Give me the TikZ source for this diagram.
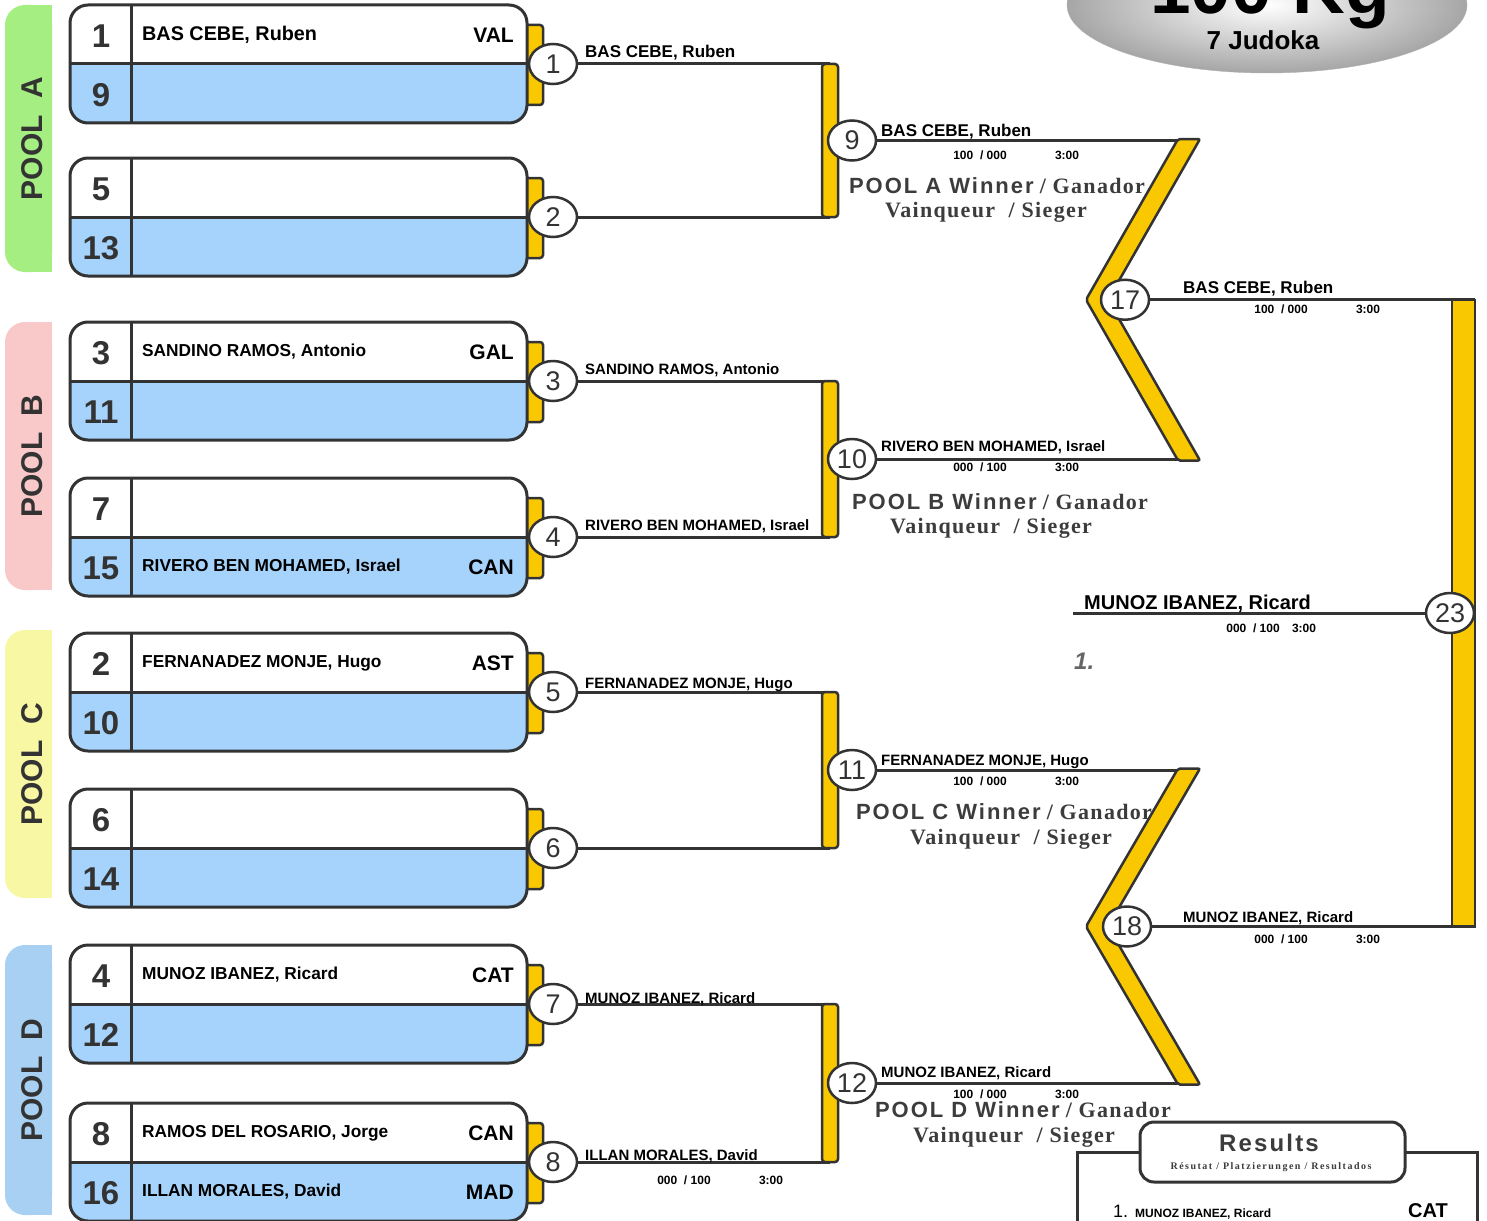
\documentclass[tikz,border=0pt]{standalone}
\usepackage{fontspec}
\setmainfont{Liberation Sans}
\newfontfamily\winsans[LetterSpace=9]{Liberation Sans}
\newfontfamily\winserif[LetterSpace=6]{Liberation Serif}
\newfontfamily\subserif[LetterSpace=15]{Liberation Serif}
\usetikzlibrary{shapes.geometric,calc}

\definecolor{dark}{HTML}{333333}
\definecolor{gold}{HTML}{F9C800}
\definecolor{rowblue}{HTML}{A6D3FB}
\definecolor{poolA}{HTML}{A5EE82}
\definecolor{poolB}{HTML}{F9C8C8}
\definecolor{poolC}{HTML}{F8F8A4}
\definecolor{poolD}{HTML}{A8D0F2}
\definecolor{wintext}{HTML}{3C3C3C}

\begin{document}
\begin{tikzpicture}[x=1pt, y=-1pt,
    boxline/.style={draw=dark, line width=3},
    wire/.style={draw=dark, line width=3},
    gbar/.style={draw=dark, line width=2.5, fill=gold, rounded corners=3},
    mcirc/.style={ellipse, draw=dark, line width=2.5, fill=white, minimum width=48, minimum height=40, inner sep=0, text=dark, font=\fontsize{27}{27}\selectfont},
    seed/.style={text=dark, font=\fontsize{33}{33}\selectfont\bfseries},
    entry/.style={anchor=west, inner sep=0, font=\fontsize{17.3}{18}\selectfont\bfseries},
    club/.style={anchor=east, inner sep=0, font=\fontsize{21}{21}\selectfont\bfseries},
    pooltab/.style={rotate=90, text=dark, font=\fontsize{30}{30}\selectfont\bfseries},
    lbl/.style={anchor=base west, inner sep=0, font=\fontsize{15}{15}\selectfont\bfseries},
    big/.style={font=\fontsize{17}{17}\selectfont\bfseries},
    score/.style={inner sep=0, font=\fontsize{12}{12}\selectfont\bfseries},
    winner/.style={text=wintext, font=\fontsize{22}{22}\selectfont\bfseries}
    ]

    \clip (0,0) rectangle (1487,1220);

    % title
    \shade[inner color=white, middle color=gray!15, outer color=gray!70, draw=gray!60] (1267,5) ellipse (200pt and 68pt);
    \node[anchor=base, font=\fontsize{73}{73}\selectfont\bfseries] (weight) at (1270,14) {100 Kg};
    \node[font=\fontsize{26}{26}\selectfont\bfseries] (judoka) at (1263,40) {7 Judoka};

    % pools
    \foreach \ya/\yb/\col/\txt in {5/272/poolA/A, 322/590/poolB/B, 630/898/poolC/C, 945/1215/poolD/D}{
        \fill[\col, rounded corners=20] (5,\ya) rectangle (52,\yb);
        \fill[\col] (30,\ya) rectangle (52,\yb);
        \node[pooltab] (pool\txt) at (32,{(\ya+\yb)/2}) {POOL\ \ \txt};
    }

    \foreach \ty/\sa/\sb/\na/\ca/\nb/\cb/\m in {
        5/1/9/{\fontsize{19.8}{20}\selectfont BAS CEBE, Ruben}/VAL/{}/{}/1,
        158/5/13/{}/{}/{}/{}/2,
        322/3/11/{SANDINO RAMOS, Antonio}/GAL/{}/{}/3,
        478/7/15/{}/{}/{RIVERO BEN MOHAMED, Israel}/CAN/4,
        633/2/10/{FERNANADEZ MONJE, Hugo}/AST/{}/{}/5,
        789/6/14/{}/{}/{}/{}/6,
        945/4/12/{MUNOZ IBANEZ, Ricard}/CAT/{}/{}/7,
        1103/8/16/{RAMOS DEL ROSARIO, Jorge}/CAN/{ILLAN MORALES, David}/MAD/8}{
        \draw[gbar] (515,\ty+20) rectangle (543,\ty+100);
        \begin{scope}
            \clip[rounded corners=18] (70,\ty) rectangle (527,\ty+118);
            \fill[white] (70,\ty) rectangle (527,\ty+59);
            \fill[rowblue] (70,\ty+59) rectangle (527,\ty+118);
        \end{scope}
        \draw[boxline, rounded corners=18] (70,\ty) rectangle (527,\ty+118);
        \draw[boxline] (70,\ty+59) -- (527,\ty+59) (131,\ty) -- (131,\ty+118);
        \node[seed] (s\sa) at (101,\ty+31) {\sa};
        \node[seed] (s\sb) at (101,\ty+90) {\sb};
        \node[entry] (n\sa) at (142,\ty+30) {\na};
        \node[club] (c\sa) at (514,\ty+30) {\ca};
        \node[entry] (n\sb) at (142,\ty+89) {\nb};
        \node[club] (c\sb) at (514,\ty+89) {\cb};
        \node[mcirc] (m\m) at (553,\ty+59) {\m};
    }

    % second round
    \coordinate (col) at (830,0);
    \foreach \a/\b/\m in {1/2/9, 3/4/10, 5/6/11, 7/8/12}{
        \draw[wire] (m\a.east) -- (m\a -| col);
        \draw[wire] (m\b.east) -- (m\b -| col);
        \draw[gbar] ($(m\a -| col)+(-8,0)$) rectangle ($(m\b -| col)+(8,0)$);
        \node[mcirc] (m\m) at ($(m\a -| col)!.5!(m\b -| col)+(22,0)$) {\m};
    }

    % pool winners
    \coordinate (cv) at (1195,0);
    \foreach \m in {9,10,11,12}
        \draw[wire] (m\m.east) -- (m\m -| cv);
    \draw[gbar, rounded corners=2] (1178,139) -- (1200,139) -- (1108,299.75) -- (1200,460.5) -- (1178,460.5) -- (1086,299.75) -- cycle;
    \draw[gbar, rounded corners=2] (1178,768.5) -- (1200,768.5) -- (1108,926.5) -- (1200,1084.5) -- (1178,1084.5) -- (1086,926.5) -- cycle;
    \node[mcirc] (m17) at (1125,299.75) {17};
    \node[mcirc] (m18) at (1127,926.5) {18};

    % final
    \coordinate (fx) at (1475,0);
    \draw[gbar, rounded corners=0] (1452,299.75) rectangle (1475,926.5);
    \draw[wire] (m17.east) -- (m17 -| fx);
    \draw[wire] (m18.east) -- (m18 -| fx);
    \node[mcirc] (m23) at (1450,613) {23};
    \coordinate (fin) at (1073,613);
    \draw[wire] (fin) -- (m23.west);

    % names on the lines
    \node[lbl, big] (l1) at (585,58) {BAS CEBE, Ruben};
    \node[lbl] (l3) at (585,374) {SANDINO RAMOS, Antonio};
    \node[lbl] (l4) at (585,530) {RIVERO BEN MOHAMED, Israel};
    \node[lbl] (l5) at (585,688) {FERNANADEZ MONJE, Hugo};
    \node[lbl] (l7) at (585,1003) {MUNOZ IBANEZ, Ricard};
    \node[lbl] (l8) at (585,1160) {ILLAN MORALES, David};
    \node[lbl, big] (l9) at (881,136) {BAS CEBE, Ruben};
    \node[lbl] (l10) at (881,451) {RIVERO BEN MOHAMED, Israel};
    \node[lbl] (l11) at (881,765) {FERNANADEZ MONJE, Hugo};
    \node[lbl] (l12) at (881,1077) {MUNOZ IBANEZ, Ricard};
    \node[lbl, big] (l17) at (1183,293) {BAS CEBE, Ruben};
    \node[lbl] (l18) at (1183,922) {MUNOZ IBANEZ, Ricard};
    \node[lbl, font=\fontsize{20}{20}\selectfont\bfseries] (l23) at (1084,609) {MUNOZ IBANEZ, Ricard};

    % scores
    \node[score] (p8) at (684,1180) {000~ / 100};   \node[score] (t8) at (771,1180) {3:00};
    \node[score] (p9) at (980,155) {100~ / 000};    \node[score] (t9) at (1067,155) {3:00};
    \node[score] (p10) at (980,467) {000~ / 100};   \node[score] (t10) at (1067,467) {3:00};
    \node[score] (p11) at (980,781) {100~ / 000};   \node[score] (t11) at (1067,781) {3:00};
    \node[score] (p12) at (980,1094) {100~ / 000};  \node[score] (t12) at (1067,1094) {3:00};
    \node[score] (p17) at (1281,309) {100~ / 000};  \node[score] (t17) at (1368,309) {3:00};
    \node[score] (p18) at (1281,939) {000~ / 100};  \node[score] (t18) at (1368,939) {3:00};
    \node[score] (p23) at (1253,628) {000~ / 100};  \node[score] (t23) at (1304,628) {3:00};
    \node[anchor=base west, inner sep=0, text=gray!80!black, font=\fontsize{24}{24}\selectfont\bfseries\itshape] (place) at (1074,669) {1.};

    % winner captions
    \node[winner] (winA) at (997,186) {{\winsans POOL A Winner} {\winserif / Ganador}};
    \node[winner] (winAb) at (986,212) {\winserif Vainqueur~ / Sieger};
    \node[winner] (winB) at (1000,502) {{\winsans POOL B Winner} {\winserif / Ganador}};
    \node[winner] (winBb) at (991,528) {\winserif Vainqueur~ / Sieger};
    \node[winner] (winC) at (1004,812) {{\winsans POOL C Winner} {\winserif / Ganador}};
    \node[winner] (winCb) at (1011,839) {\winserif Vainqueur~ / Sieger};
    \node[winner] (winD) at (1023,1110) {{\winsans POOL D Winner} {\winserif / Ganador}};
    \node[winner] (winDb) at (1014,1137) {\winserif Vainqueur~ / Sieger};

    % results
    \draw[boxline, fill=white] (1077,1152) rectangle (1477,1240);
    \draw[boxline, fill=white, rounded corners=14] (1140,1122) rectangle (1405,1182);
    \node[text=wintext, font=\fontsize{24}{24}\selectfont\bfseries\winsans] (res) at (1269,1143) {Results};
    \node[text=wintext, font=\fontsize{10}{10}\selectfont\bfseries\subserif] (ressub) at (1271,1167) {Résutat / Platzierungen / Resultados};
    \node[anchor=base west, inner sep=0, font=\fontsize{18}{18}\selectfont] (r1) at (1113,1217) {1.};
    \node[anchor=base west, inner sep=0, font=\fontsize{12}{12}\selectfont\bfseries] (r1n) at (1135,1217) {MUNOZ IBANEZ, Ricard};
    \node[anchor=base, inner sep=0, font=\fontsize{20}{20}\selectfont\bfseries] (r1c) at (1428,1217) {CAT};
    %
\end{tikzpicture}
\end{document}
